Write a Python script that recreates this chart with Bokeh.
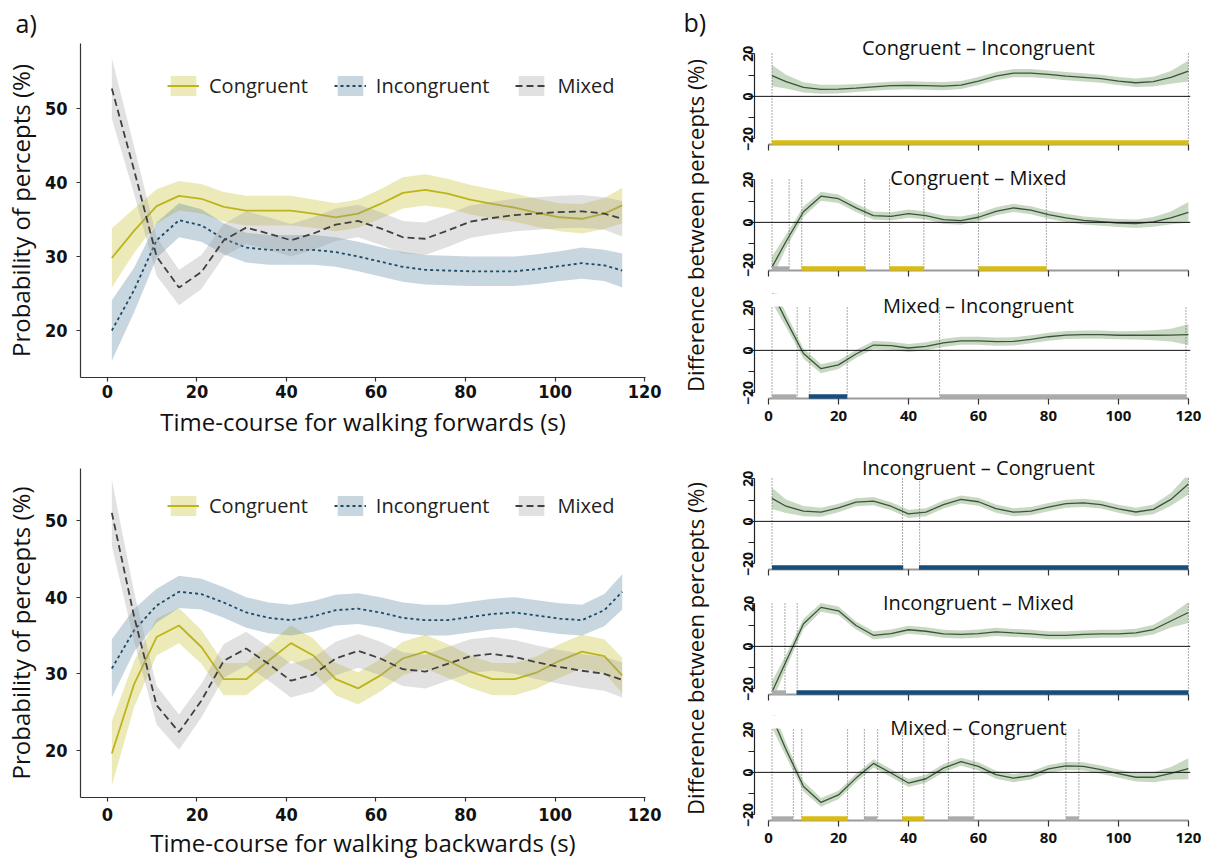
import math
from bokeh.plotting import figure
from bokeh.models import Range1d, Label, Span, FixedTicker, Legend, LegendItem, BoxAnnotation
from bokeh.layouts import row, column
from bokeh.embed import file_html
from bokeh.resources import INLINE
from bokeh.core.properties import value

# ---------------- data: panel a) ----------------
t_win = [1, 6, 11, 16, 21, 26, 31, 36, 41, 46, 51, 56, 61, 66, 71, 76, 81, 86, 91, 96, 101, 106, 111, 115]

fwd_congruent = [29.8, 33.5, 36.8, 38.2, 37.8, 36.7, 36.2, 36.2, 36.2, 35.8, 35.3, 35.8, 37.1, 38.6, 39.0, 38.5, 37.7, 37.1, 36.6, 35.9, 35.3, 35.1, 35.8, 36.9]
fwd_congruent_se = [4.0, 3.0, 2.3, 2.0, 2.0, 2.0, 2.0, 2.0, 2.0, 1.9, 1.9, 1.9, 2.0, 2.1, 2.1, 2.0, 2.0, 2.0, 1.9, 1.9, 1.9, 2.0, 2.1, 2.4]
fwd_incongruent = [20.0, 25.5, 32.2, 34.9, 34.2, 32.4, 31.2, 30.9, 30.9, 30.9, 30.6, 30.0, 29.3, 28.6, 28.2, 28.1, 28.0, 28.0, 28.0, 28.3, 28.7, 29.1, 28.8, 28.1]
fwd_incongruent_se = [4.1, 3.0, 2.4, 2.3, 2.2, 2.1, 2.0, 2.0, 2.0, 2.0, 2.0, 2.0, 2.0, 2.0, 2.0, 2.0, 2.0, 2.0, 2.0, 2.0, 2.0, 2.1, 2.1, 2.3]
fwd_mixed = [52.7, 41.6, 30.0, 25.8, 27.9, 32.2, 33.9, 33.1, 32.2, 33.1, 34.3, 34.8, 33.8, 32.6, 32.4, 33.5, 34.7, 35.2, 35.6, 35.8, 36.0, 36.1, 35.8, 35.1]
fwd_mixed_se = [4.1, 3.2, 2.6, 2.4, 2.3, 2.2, 2.2, 2.2, 2.2, 2.2, 2.2, 2.2, 2.2, 2.2, 2.2, 2.2, 2.2, 2.2, 2.2, 2.2, 2.2, 2.2, 2.2, 2.4]

bwd_congruent = [19.6, 28.7, 34.8, 36.3, 33.5, 29.3, 29.3, 31.7, 34.0, 32.4, 29.3, 28.1, 29.8, 32.0, 32.9, 31.7, 30.3, 29.3, 29.3, 30.2, 31.7, 32.9, 32.3, 29.8]
bwd_congruent_se = [4.2, 3.0, 2.4, 2.3, 2.2, 2.1, 2.1, 2.2, 2.3, 2.2, 2.1, 2.1, 2.1, 2.2, 2.2, 2.2, 2.1, 2.1, 2.1, 2.1, 2.2, 2.2, 2.2, 2.3]
bwd_incongruent = [30.7, 35.7, 38.9, 40.7, 40.4, 39.3, 38.0, 37.3, 37.0, 37.5, 38.3, 38.5, 38.0, 37.3, 37.0, 37.0, 37.4, 37.8, 38.0, 37.6, 37.2, 37.0, 38.3, 40.7]
bwd_incongruent_se = [3.8, 2.8, 2.2, 2.1, 2.0, 2.0, 2.0, 2.0, 2.0, 2.0, 2.0, 2.0, 2.0, 2.0, 2.0, 2.0, 2.0, 2.0, 2.0, 2.0, 2.0, 2.0, 2.1, 2.3]
bwd_mixed = [51.0, 37.4, 25.9, 22.4, 26.5, 31.7, 33.3, 31.3, 29.1, 29.9, 32.0, 33.0, 32.0, 30.6, 30.3, 31.3, 32.3, 32.6, 32.2, 31.5, 30.9, 30.4, 30.0, 29.2]
bwd_mixed_se = [4.3, 3.2, 2.5, 2.3, 2.2, 2.2, 2.2, 2.2, 2.2, 2.2, 2.2, 2.2, 2.2, 2.2, 2.2, 2.2, 2.2, 2.2, 2.2, 2.2, 2.2, 2.2, 2.2, 2.3]

series_names = ["Congruent", "Incongruent", "Mixed"]
x_ticks_a = [0, 20, 40, 60, 80, 100, 120]
y_ticks_a = [20, 30, 40, 50]

# ---------------- data: panel b) ----------------
t_diff = [1, 5, 10, 15, 20, 25, 30, 35, 40, 45, 50, 55, 60, 65, 70, 75, 80, 85, 90, 95, 100, 105, 110, 115, 120]
diff_se = [5.0, 3.2, 2.4, 2.1, 2.0, 1.9, 1.9, 1.9, 1.9, 1.9, 1.9, 1.9, 1.9, 1.9, 1.9, 1.9, 1.9, 1.9, 1.9, 1.9, 1.9, 2.0, 2.3, 3.0, 4.9]

diff_ci_fwd = [9.7, 6.9, 4.2, 3.3, 3.4, 3.9, 4.5, 5.0, 5.2, 5.0, 4.8, 5.3, 7.2, 9.5, 10.9, 10.9, 10.3, 9.5, 8.9, 8.3, 7.2, 6.4, 6.9, 8.9, 11.9]
diff_cm_fwd = [-21.0, -9.0, 5.0, 12.3, 11.1, 6.8, 3.2, 2.8, 4.1, 3.2, 1.3, 0.8, 2.4, 5.2, 6.8, 5.7, 3.6, 2.1, 0.9, 0.3, -0.3, -0.6, 0.2, 2.1, 4.7]
diff_mi_fwd = [27.5, 14.2, -1.5, -8.6, -6.8, -1.7, 2.5, 2.2, 1.1, 1.9, 3.5, 4.5, 4.5, 4.1, 4.2, 5.2, 6.4, 7.2, 7.4, 7.4, 7.1, 7.1, 7.1, 7.2, 7.4]
diff_ic_bwd = [10.8, 7.1, 4.8, 4.3, 6.3, 9.0, 9.5, 7.1, 3.5, 4.3, 7.9, 10.3, 9.2, 6.0, 4.3, 4.8, 6.7, 8.3, 8.7, 7.9, 5.9, 4.4, 5.6, 10.3, 17.5]
diff_im_bwd = [-21.4, -7.1, 10.6, 18.3, 16.7, 9.8, 5.2, 6.0, 7.8, 7.1, 5.9, 5.6, 6.0, 6.8, 6.3, 5.9, 5.2, 5.2, 5.6, 5.9, 5.9, 6.3, 7.9, 11.9, 15.9]
diff_mc_bwd = [26.0, 10.7, -6.6, -14.1, -10.6, -2.7, 4.2, -0.3, -5.0, -3.0, 2.0, 5.0, 2.8, -1.1, -2.7, -1.5, 1.6, 3.0, 2.8, 1.3, -0.6, -2.3, -2.3, -0.5, 1.7]

diff_titles = ["Congruent – Incongruent", "Congruent – Mixed", "Mixed – Incongruent",
               "Incongruent – Congruent", "Incongruent – Mixed", "Mixed – Congruent"]

diff_vlines = [
    [1, 120],
    [1, 5.9, 9.5, 27.5, 34.6, 44.4, 60, 79.4],
    [1, 8.2, 11.8, 22.5, 48.9, 119.3],
    [1, 38.3, 43.2, 120],
    [1, 4.7, 8.2, 120],
    [1, 7.1, 9.5, 22.6, 27.4, 31.2, 38.3, 44.4, 51.4, 58.7, 85, 88.7],
]

# significance intervals: start, end, percept that dominates
diff_bars = [
    [(1, 120, "Congruent")],
    [(1, 6, "Mixed"), (9.5, 27.8, "Congruent"), (34.5, 44.5, "Congruent"), (60, 79.5, "Congruent")],
    [(1, 8, "Mixed"), (11.5, 22.5, "Incongruent"), (49, 119.5, "Mixed")],
    [(1, 38.5, "Incongruent"), (43, 120, "Incongruent")],
    [(1, 5, "Mixed"), (8, 120, "Incongruent")],
    [(1, 7, "Mixed"), (9.5, 22.6, "Congruent"), (27.3, 31, "Mixed"), (38.2, 44.5, "Congruent"),
     (51.3, 58.7, "Mixed"), (85, 88.7, "Mixed")],
]
x_ticks_b = [0, 20, 40, 60, 80, 100, 120]

# ---------------- styles ----------------
LINE_COL = {"Congruent": "#bdb41c", "Incongruent": "#1d4a66", "Mixed": "#404040"}
FILL_COL = {"Congruent": "#c0b916", "Incongruent": "#487698", "Mixed": "#9b9b9b"}
DASH = {"Congruent": "solid", "Incongruent": "3 3", "Mixed": "7 4"}
BAR_COL = {"Congruent": "#d9bb12", "Incongruent": "#174d78", "Mixed": "#ababab"}
NARROW = "Liberation Sans Narrow, DejaVu Sans Condensed, sans-serif"


def left_panel(means, ses, y_lo, y_hi, frame_h, top, bottom, xlabel, with_tag, tick_sd, lab_sd):
    p = figure(frame_width=565, frame_height=frame_h, min_border_left=72, min_border_right=23,
               min_border_top=top, min_border_bottom=bottom,
               x_range=Range1d(-6.0, 120.2), y_range=Range1d(y_lo, y_hi),
               output_backend="svg", toolbar_location=None)
    p.outline_line_color = None
    p.grid.visible = False
    items = []
    for name, m, s in zip(series_names, means, ses):
        lo = [a - b for a, b in zip(m, s)]
        hi = [a + b for a, b in zip(m, s)]
        ra = p.varea(x=t_win, y1=lo, y2=hi, fill_color=FILL_COL[name], fill_alpha=0.3)
        rl = p.line(t_win, m, line_color=LINE_COL[name], line_width=1.8, line_dash=DASH[name])
        items.append(LegendItem(label=name, renderers=[ra, rl]))
    leg = Legend(items=items, orientation="horizontal", location=(87, 278),
                 glyph_width=32, glyph_height=25, label_standoff=10, spacing=26,
                 padding=0, margin=0, border_line_color=None, background_fill_alpha=0,
                 label_text_font="Open Sans", label_text_font_size="20px",
                 label_text_color="#222222")
    p.add_layout(leg)
    p.xaxis.ticker = FixedTicker(ticks=x_ticks_a)
    p.yaxis.ticker = FixedTicker(ticks=y_ticks_a)
    for ax in (p.xaxis, p.yaxis):
        ax.axis_line_color = "#333333"
        ax.axis_line_width = 1.2
        ax.major_tick_line_color = "#333333"
        ax.major_tick_line_width = 1.2
        ax.major_tick_out = 4
        ax.major_tick_in = 0
        ax.minor_tick_line_color = None
        ax.major_label_text_font = NARROW
        ax.major_label_text_font_style = "bold"
        ax.major_label_text_font_size = "18px"
        ax.major_label_text_color = "#111111"
        ax.axis_label_text_font = "Open Sans"
        ax.axis_label_text_font_style = "normal"
        ax.axis_label_text_font_size = "24px"
        ax.axis_label_text_color = "#111111"
    p.yaxis.major_label_standoff = 9
    p.xaxis.major_label_standoff = tick_sd
    p.yaxis.axis_label_standoff = 5
    p.xaxis.axis_label_standoff = lab_sd
    p.yaxis.axis_label = "Probability of percepts (%)"
    p.xaxis.axis_label = xlabel
    if with_tag:
        p.title.text = "a)"
        p.title.align = "left"
        p.title.offset = -65
        p.title.standoff = 7
        p.title.text_font = "Open Sans"
        p.title.text_font_style = "normal"
        p.title.text_font_size = "25px"
        p.title.text_color = "#111111"
    return p


def diff_panel(idx, yvals, top, frame_h, bottom, show_x, title_y):
    px_per_unit = 2.13
    y_bot = -22.6
    y_top = y_bot + frame_h / px_per_unit
    clip_y = 20.6
    bar_y = -21.7
    p = figure(frame_width=436, frame_height=frame_h, min_border_left=34, min_border_right=18,
               min_border_top=top, min_border_bottom=bottom,
               x_range=Range1d(-4.0, 120.6), y_range=Range1d(y_bot, y_top),
               output_backend="svg", toolbar_location=None)
    p.outline_line_color = None
    p.grid.visible = False
    lo = [a - b for a, b in zip(yvals, diff_se)]
    hi = [a + b for a, b in zip(yvals, diff_se)]
    p.varea(x=t_diff, y1=lo, y2=hi, fill_color="#9db891", fill_alpha=0.55)
    vl = diff_vlines[idx]
    p.segment(x0=vl, y0=[y_bot] * len(vl), x1=vl, y1=[clip_y] * len(vl),
              line_color="#555555", line_width=1, line_dash="1 2")
    p.add_layout(Span(location=0, dimension="width", line_color="#111111", line_width=1))
    p.line(t_diff, yvals, line_color="#38553a", line_width=1.3)
    bars = diff_bars[idx]
    rb = p.segment(x0=[b[0] for b in bars], y0=[bar_y] * len(bars),
                   x1=[b[1] for b in bars], y1=[bar_y] * len(bars),
                   line_color=[BAR_COL[b[2]] for b in bars], line_width=4.5)
    rb.level = "overlay"
    # plot-region clip (as in the original base-graphics panels)
    p.add_layout(BoxAnnotation(bottom=clip_y, fill_color="white", fill_alpha=1.0,
                               line_color=None))
    # axes
    xa = p.xaxis[0]
    xa.ticker = FixedTicker(ticks=x_ticks_b)
    xa.bounds = (0, 120)
    xa.axis_line_color = "#9a9a9a"
    xa.axis_line_width = 2
    xa.major_tick_line_color = "#333333"
    xa.major_tick_line_width = 1.2
    xa.major_tick_out = 6
    xa.major_tick_in = 0
    xa.minor_tick_line_color = None
    xa.major_label_text_font = "Open Sans"
    xa.major_label_text_font_style = "bold"
    if show_x:
        xa.major_label_text_font_size = "15px"
        xa.major_label_text_color = "#111111"
    else:
        xa.major_label_text_font_size = "1px"
        xa.major_label_text_color = None
    xa.major_label_standoff = 6
    ya = p.yaxis[0]
    ya.ticker = FixedTicker(ticks=[-20, 0, 20], minor_ticks=[-10, 10])
    ya.bounds = (-20, 20)
    ya.axis_line_color = "#222222"
    ya.axis_line_width = 1.2
    ya.major_tick_line_color = "#222222"
    ya.minor_tick_line_color = "#222222"
    ya.major_tick_line_width = 1.2
    ya.minor_tick_line_width = 1.2
    ya.major_tick_out = 6
    ya.major_tick_in = 0
    ya.minor_tick_out = 6
    ya.minor_tick_in = 0
    ya.major_label_orientation = "parallel"
    ya.major_label_overrides = {-20: "−20"}
    ya.major_label_text_font = "Open Sans"
    ya.major_label_text_font_style = "bold"
    ya.major_label_text_font_size = "14px"
    ya.major_label_text_color = "#111111"
    ya.major_label_standoff = -5
    p.add_layout(Label(x=60, y=title_y, text=diff_titles[idx], text_font="Open Sans",
                       text_font_size="20px", text_align="center", text_baseline="middle",
                       text_color="#111111"))
    return p


figA = left_panel([fwd_congruent, fwd_incongruent, fwd_mixed],
                  [fwd_congruent_se, fwd_incongruent_se, fwd_mixed_se],
                  13.65, 58.78, 334, 43, 63, "Time-course for walking forwards (s)", True, 3, 4)
figB = left_panel([bwd_congruent, bwd_incongruent, bwd_mixed],
                  [bwd_congruent_se, bwd_incongruent_se, bwd_mixed_se],
                  13.87, 56.78, 329, 28, 58, "Time-course for walking backwards (s)", False, 6, 2)

side = figure(frame_width=52, frame_height=855, x_range=Range1d(0, 52), y_range=Range1d(855, 0),
              min_border=0, x_axis_location=None, y_axis_location=None,
              output_backend="svg", toolbar_location=None)
side.outline_line_color = None
side.grid.visible = False
ylab_b = "Difference between percepts (%)"
side.text(x=[26, 26], y=[225, 648], text=[ylab_b, ylab_b], angle=math.pi / 2,
          text_align="center", text_baseline="middle", text_font=value("Open Sans"),
          text_font_size="22px", text_color="#111111")
side.text(x=[15], y=[21], text=["b)"], text_align="left", text_baseline="middle",
          text_font=value("Open Sans"), text_font_size="25px", text_color="#111111")

diff_series = [diff_ci_fwd, diff_cm_fwd, diff_mi_fwd, diff_ic_bwd, diff_im_bwd, diff_mc_bwd]
# (top border, frame height, bottom border) per panel
geom = [(35, 109, 16), (5, 105, 18), (5, 105, 42), (16, 113, 21), (1, 103, 17), (4, 105, 35)]
title_ys = [23.1, 21.1, 21.1, 25.2, 20.8, 21.1]
panels = []
for i in range(6):
    t, fh, b = geom[i]
    panels.append(diff_panel(i, diff_series[i], t, fh, b, i in (2, 5), title_ys[i]))

layout = row(column(figA, figB), side, column(*panels))
open("out.html", "w").write(file_html(layout, INLINE))
